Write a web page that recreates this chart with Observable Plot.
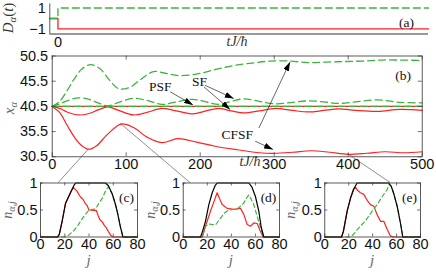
<!DOCTYPE html>
<html><head><meta charset="utf-8">
<script src="https://cdn.jsdelivr.net/npm/d3@7"></script>
<script src="https://cdn.jsdelivr.net/npm/@observablehq/plot@0.6"></script>
<style>
body{margin:0;background:#fff;}
#c{position:relative;width:436px;height:275px;overflow:hidden;background:#fff;}
#c svg{position:absolute;left:0;top:0;}
</style></head><body><div id="c"></div>
<script>
// ---------------- data ----------------
// panel (a): driving D_alpha(t)
const tA = [-11, 0, 0, 500];
const dRedA = [0, 0, -1, -1];
const dGreenA = [0, 0, 1, 1];
const yTicksA = [-1, 1];
const xTicksA = [0];

// panel (b): centre of mass x_alpha
const tSF = [0, 500];
const xSF = [40.5, 40.5];
const tPSF = [0, 10, 20, 36, 50, 62, 75, 90, 110, 128, 148, 168, 190, 208, 225, 242, 259, 280, 302, 325, 347, 367, 387, 410, 440, 470, 500];
const xPSFred = [40.5, 40.1, 39.4, 38.8, 39.1, 39.8, 40.4, 39.7, 38.8, 39.3, 40.1, 39.6, 39.0, 39.6, 40.1, 39.6, 39.2, 39.6, 40.1, 39.7, 39.4, 39.7, 40.0, 39.7, 39.5, 39.9, 39.7];
const xPSFgreen = [40.5, 41.0, 41.6, 42.2, 41.9, 41.2, 40.6, 41.3, 42.1, 41.7, 40.9, 41.4, 41.9, 41.4, 40.9, 41.5, 42.0, 41.5, 41.0, 41.3, 41.6, 41.4, 41.1, 41.4, 41.8, 41.3, 41.2];
const tCFSFred = [0, 10, 20, 30, 40, 50, 60, 75, 93, 110, 128, 148, 170, 195, 220, 250, 280, 300, 325, 350, 375, 400, 425, 450, 475, 500];
const xCFSFred = [40.5, 39.3, 36.8, 34.4, 32.7, 32.0, 32.7, 35.0, 37.0, 36.3, 34.4, 33.3, 34.1, 33.4, 32.6, 31.9, 31.3, 31.2, 31.4, 31.7, 31.4, 31.0, 31.2, 31.5, 31.3, 31.5];
const tCFSFgreen = [0, 10, 20, 30, 40, 52, 65, 78, 90, 105, 120, 137, 155, 172, 195, 220, 245, 270, 295, 320, 345, 370, 395, 420, 445, 470, 500];
const xCFSFgreen = [40.5, 41.5, 43.6, 46.0, 47.9, 48.8, 47.9, 45.6, 44.0, 44.3, 45.9, 47.4, 47.0, 46.6, 46.9, 47.8, 48.6, 49.1, 49.5, 49.5, 49.2, 49.3, 49.4, 49.5, 49.7, 49.7, 49.6];
const xTicksB = [0, 100, 200, 300, 400, 500];
const yTicksB = [30.5, 35.5, 40.5, 45.5, 50.5];

// annotations of panel (b), in data units
const annText = ["PSF", "SF", "CFSF"];
const annT = [146, 199, 250];
const annV = [44.4, 45.4, 34.9];
const arrT1 = [160, 207, 206, 280, 275];
const arrV1 = [43.3, 44.6, 44.25, 36.1, 33.5];
const arrT2 = [191, 246, 241, 322, 299];
const arrV2 = [40.7, 41.97, 39.8, 49.2, 31.85];

// snapshots (c),(d),(e): times on the CFSF curve and entry point on the inset
const snapT = [50, 93, 400];
const snapJ = [15, 6, 55];

// insets: density profiles n_{alpha,j}
const jCk = [0, 14, 15.5, 18, 20.6, 24.7, 27.5, 29, 53.6, 56, 59.1, 61.5, 63.3, 66, 68, 80];
const nCk = [0, 0, 0.05, 0.31, 0.62, 0.82, 0.95, 1, 1, 0.95, 0.8, 0.63, 0.47, 0.18, 0, 0];
const jCr = [0, 14, 15.5, 18, 20.6, 24.7, 27, 30, 33, 35, 37, 38.5, 40, 46, 47.5, 49, 51, 52.5, 54, 56, 58, 60, 80];
const nCr = [0, 0, 0.05, 0.31, 0.62, 0.82, 0.92, 0.85, 0.74, 0.7, 0.62, 0.58, 0.5, 0.49, 0.4, 0.32, 0.28, 0.22, 0.18, 0.1, 0.03, 0, 0];
const jCg = [0, 20, 23, 27.5, 31, 34.4, 37, 40, 45.5, 48, 51, 54, 56, 59.1, 61.5, 63.3, 66, 68, 80];
const nCg = [0, 0, 0.03, 0.12, 0.22, 0.34, 0.42, 0.5, 0.52, 0.62, 0.72, 0.87, 0.93, 0.8, 0.63, 0.47, 0.18, 0, 0];

const jDk = [0, 14.4, 16, 18.5, 21.3, 24.1, 26.5, 28.2, 54.5, 57, 60, 62.8, 64.8, 67, 80];
const nDk = [0, 0, 0.1, 0.29, 0.6, 0.82, 0.95, 1, 1, 0.93, 0.75, 0.48, 0.18, 0, 0];
const jDr = [0, 15.8, 18.5, 22.7, 25.5, 28.2, 30, 32.4, 36.5, 42, 47.6, 50.3, 53.2, 55.9, 58.6, 61.5, 64.2, 66.5, 80];
const nDr = [0, 0, 0.2, 0.48, 0.65, 0.82, 0.72, 0.6, 0.53, 0.51, 0.53, 0.42, 0.23, 0.2, 0.26, 0.25, 0.1, 0, 0];
const jDg = [0, 15.8, 18.5, 22, 26.8, 31, 34.5, 37.9, 44.9, 48, 50.3, 52.5, 54.5, 56.5, 58.6, 61.5, 64.2, 66.5, 80];
const nDg = [0, 0, 0.2, 0.24, 0.22, 0.35, 0.45, 0.5, 0.52, 0.58, 0.63, 0.72, 0.78, 0.7, 0.6, 0.38, 0.18, 0, 0];

const jEk = [0, 14, 15.5, 18.7, 21.5, 24, 25.7, 27, 53.5, 55.5, 57.7, 60.5, 63.3, 65.2, 80];
const nEk = [0, 0, 0.1, 0.48, 0.72, 0.88, 0.95, 1, 1, 0.94, 0.8, 0.57, 0.25, 0, 0];
const jEr = [0, 14, 15.5, 18.7, 21.5, 24, 25.7, 27.5, 29.8, 32.6, 35.4, 38.2, 41, 43.8, 46.6, 49.3, 52.2, 54.9, 57, 80];
const nEr = [0, 0, 0.1, 0.48, 0.72, 0.88, 0.92, 0.86, 0.82, 0.79, 0.68, 0.6, 0.57, 0.41, 0.29, 0.29, 0.14, 0.02, 0, 0];
const jEg = [0, 21.5, 24, 28.4, 34, 39.6, 43.8, 48, 52.2, 53.5, 55.5, 57.7, 60.5, 63.3, 65.2, 80];
const nEg = [0, 0, 0.05, 0.17, 0.3, 0.48, 0.6, 0.75, 0.88, 0.97, 0.94, 0.8, 0.57, 0.25, 0, 0];

const xTicksIn = [0, 20, 40, 60, 80];
const yTicksIn = [0, 0.5, 1];
const insetTags = ["(c)", "(d)", "(e)"];

// ---------------- drawing ----------------
const W = 436, H = 275;
const SANS = "'Liberation Sans', Arial, Helvetica, sans-serif";
const SERIF = "'Liberation Serif', 'Times New Roman', serif";
const RED = "#ff2020", GREEN = "#3cb43c", AX = "#333";
const FS = 14.5;
const zip = (xs, ys) => xs.map((x, i) => ({x, y: ys[i]}));
const fmt = d => d < 0 ? "\u2212" + (-d) : String(d);
const style = {background: "transparent", fontFamily: SANS, fontSize: FS + "px", color: "#111"};
const root = document.getElementById("c");

function inTicks(xt, yt, fw, fh, len) {
  return [
    Plot.tickX(xt, {x: d => d, insetTop: fh - len, stroke: AX, strokeWidth: 0.7}),
    Plot.tickX(xt, {x: d => d, insetBottom: fh - len, stroke: AX, strokeWidth: 0.7}),
    Plot.tickY(yt, {y: d => d, insetRight: fw - len, stroke: AX, strokeWidth: 0.7}),
    Plot.tickY(yt, {y: d => d, insetLeft: fw - len, stroke: AX, strokeWidth: 0.7})
  ];
}

// panel (a)
const aL = 49.3, aR = 428, aT = 3.3, aB = 33.5;
const pa = Plot.plot({
  width: W, height: H, marginLeft: aL, marginRight: W - aR, marginTop: aT, marginBottom: H - aB,
  style,
  x: {domain: [-11, 500]}, y: {domain: [-1.48, 1.4]},
  marks: [
    Plot.line(zip(tA, dRedA), {x: "x", y: "y", stroke: RED, strokeWidth: 1.3}),
    Plot.line(zip(tA, dGreenA), {x: "x", y: "y", stroke: GREEN, strokeWidth: 1.3, strokeDasharray: "7,4"}),
    Plot.ruleY([-1.48], {stroke: "#777", strokeWidth: 1.6}),
    Plot.ruleX([-11], {stroke: AX, strokeWidth: 0.8}),
    Plot.axisY({ticks: yTicksA, tickSize: 0, tickPadding: 4, tickFormat: fmt, label: null, fontSize: FS}),
    Plot.axisX({ticks: xTicksA, tickSize: 0, tickPadding: 3, tickFormat: fmt, label: null, fontSize: FS}),
    Plot.text(["(a)"], {frameAnchor: "top-right", dx: -22, dy: 14, textAnchor: "middle", fontFamily: SERIF, fontSize: 13.5})
  ]
});
root.appendChild(pa);

// panel (b)
const bL = 51.7, bR = 421.7, bT = 55.5, bB = 156.3;
const pb = Plot.plot({
  width: W, height: H, marginLeft: bL, marginRight: W - bR, marginTop: bT, marginBottom: H - bB,
  style,
  x: {domain: [0, 500]}, y: {domain: [30.5, 50.5]},
  marks: [
    Plot.line(zip(tSF, xSF), {x: "x", y: "y", stroke: RED, strokeWidth: 1.2}),
    Plot.line(zip(tPSF, xPSFred), {x: "x", y: "y", stroke: RED, strokeWidth: 1.2, curve: "catmull-rom"}),
    Plot.line(zip(tCFSFred, xCFSFred), {x: "x", y: "y", stroke: RED, strokeWidth: 1.2, curve: "catmull-rom"}),
    Plot.line(zip(tSF, xSF), {x: "x", y: "y", stroke: GREEN, strokeWidth: 1.3, strokeDasharray: "7,4"}),
    Plot.line(zip(tPSF, xPSFgreen), {x: "x", y: "y", stroke: GREEN, strokeWidth: 1.3, strokeDasharray: "7,4", curve: "catmull-rom"}),
    Plot.line(zip(tCFSFgreen, xCFSFgreen), {x: "x", y: "y", stroke: GREEN, strokeWidth: 1.3, strokeDasharray: "7,4", curve: "catmull-rom"}),
    Plot.frame({stroke: AX, strokeWidth: 0.8}),
    ...inTicks(xTicksB, yTicksB, bR - bL, bB - bT, 4),
    Plot.axisX({ticks: xTicksB, tickSize: 0, tickPadding: 2, label: null, fontSize: FS}),
    Plot.axisY({ticks: yTicksB, tickSize: 0, tickPadding: 4, tickFormat: d => d.toFixed(1), label: null, fontSize: FS}),
    Plot.text(annText, {x: (d, i) => annT[i], y: (d, i) => annV[i], text: d => d, fontFamily: SERIF, fontSize: 13.5}),
    Plot.text(["(b)"], {frameAnchor: "top-right", dx: -19, dy: 14, textAnchor: "middle", fontFamily: SERIF, fontSize: 13.5})
  ]
});
root.appendChild(pb);

// insets
const insetBox = [[40, 137], [182.7, 279], [324.3, 420]];
const inT = 182.5, inB = 236.5;
const insetData = [
  [zip(jCk, nCk), zip(jCr, nCr), zip(jCg, nCg)],
  [zip(jDk, nDk), zip(jDr, nDr), zip(jDg, nDg)],
  [zip(jEk, nEk), zip(jEr, nEr), zip(jEg, nEg)]
];
const insets = insetData.map(([k, r, g], i) => {
  const [l, rr] = insetBox[i];
  const p = Plot.plot({
    width: W, height: H, marginLeft: l, marginRight: W - rr, marginTop: inT, marginBottom: H - inB,
    style,
    x: {domain: [0, 80]}, y: {domain: [0, 1]},
    marks: [
      Plot.line(r, {x: "x", y: "y", stroke: RED, strokeWidth: 1.2}),
      Plot.line(g, {x: "x", y: "y", stroke: GREEN, strokeWidth: 1.2, strokeDasharray: "4,3"}),
      Plot.line(k, {x: "x", y: "y", stroke: "#000", strokeWidth: 1.2}),
      Plot.frame({stroke: AX, strokeWidth: 0.8}),
      ...inTicks(xTicksIn, yTicksIn, rr - l, inB - inT, 3),
      Plot.axisX({ticks: xTicksIn, tickSize: 0, tickPadding: 2, label: null, fontSize: FS}),
      Plot.axisY({ticks: yTicksIn, tickSize: 0, tickPadding: 3, tickFormat: d => String(d), label: null, fontSize: FS}),
      Plot.text([insetTags[i]], {frameAnchor: "top-right", dx: -11, dy: 9, textAnchor: "middle", fontFamily: SERIF, fontSize: 13.5})
    ]
  });
  root.appendChild(p);
  return p;
});

// overlay: connectors, arrows, axis labels
const ov = d3.select(root).append("svg").attr("width", W).attr("height", H);
ov.append("defs").append("marker").attr("id", "ah")
  .attr("viewBox", "0 0 9 6").attr("refX", 9).attr("refY", 3)
  .attr("markerWidth", 9).attr("markerHeight", 6).attr("markerUnits", "userSpaceOnUse")
  .attr("orient", "auto")
  .append("path").attr("d", "M0,0L9,3L0,6z").attr("fill", "#000");

const bx = pb.scale("x"), by = pb.scale("y");
snapT.forEach((t, i) => {
  const v = xCFSFred[tCFSFred.indexOf(t)];
  const ix = insets[i].scale("x"), iy = insets[i].scale("y");
  ov.append("line")
    .attr("x1", bx.apply(t)).attr("y1", by.apply(v))
    .attr("x2", ix.apply(snapJ[i])).attr("y2", iy.apply(1))
    .attr("stroke", "#444").attr("stroke-width", 0.6);
});
arrT1.forEach((t, i) => {
  ov.append("line")
    .attr("x1", bx.apply(t)).attr("y1", by.apply(arrV1[i]))
    .attr("x2", bx.apply(arrT2[i])).attr("y2", by.apply(arrV2[i]))
    .attr("stroke", "#000").attr("stroke-width", 0.6).attr("marker-end", "url(#ah)");
});

function mlabel(x, y, parts, o = {}) {
  const size = o.size || 14;
  const t = ov.append("text").attr("x", x).attr("y", y)
    .attr("font-family", SERIF).attr("font-size", size).attr("font-style", "italic")
    .attr("fill", o.fill || "#555").attr("text-anchor", "middle");
  if (o.rotate) t.attr("transform", `rotate(-90,${x},${y})`);
  for (const p of parts) {
    const s = t.append("tspan").text(p.t);
    if (p.sub) s.attr("font-size", size * 0.72).attr("dy", 3);
    if (p.back) s.attr("dy", -3);
    if (p.roman) s.attr("font-style", "normal");
  }
}
mlabel(13, 18, [{t: "D"}, {t: "\u03b1", sub: true}, {t: "(", back: true, roman: true}, {t: "t"}, {t: ")", roman: true}], {rotate: true, fill: "#333", size: 15});
mlabel(14, 108, [{t: "x"}, {t: "\u03b1", sub: true}], {rotate: true, fill: "#666", size: 15});
[12, 155, 295].forEach(x => mlabel(x, 210, [{t: "n"}, {t: "\u03b1,j", sub: true}], {rotate: true, fill: "#666"}));
insetBox.forEach(([l, r]) => mlabel((l + r) / 2, 265, [{t: "j"}], {fill: "#666", size: 15}));
mlabel(237, 46, [{t: "tJ/\u0127"}], {fill: "#333"});
mlabel(250, 166, [{t: "tJ/\u0127"}], {fill: "#333"});
</script></body></html>
